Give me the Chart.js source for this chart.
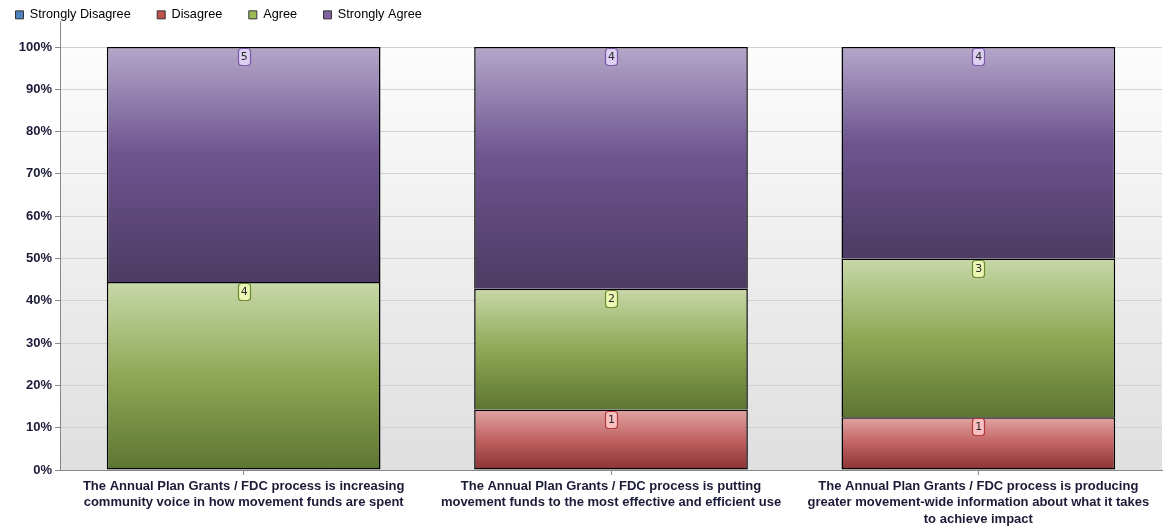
<!DOCTYPE html>
<html><head><meta charset="utf-8">
<script src="https://cdn.jsdelivr.net/npm/chart.js@4"></script>
<style>html,body{margin:0;padding:0;background:#fff}#wrap{width:1171px;height:530px;position:relative}</style>
</head><body><div id="wrap"><canvas id="c"></canvas></div>
<script>
const categories = [
  ["The Annual Plan Grants / FDC process is increasing", "community voice in how movement funds are spent"],
  ["The Annual Plan Grants / FDC process is putting", "movement funds to the most effective and efficient use"],
  ["The Annual Plan Grants / FDC process is producing", "greater movement-wide information about what it takes", "to achieve impact"]
];
const seriesNames = ["Strongly Disagree", "Disagree", "Agree", "Strongly Agree"];
const stronglyDisagree = [0, 0, 0];
const disagree = [0, 1, 1];
const agree = [4, 2, 3];
const stronglyAgree = [5, 4, 4];
const yTickValues = [0, 10, 20, 30, 40, 50, 60, 70, 80, 90, 100];

const counts = [stronglyDisagree, disagree, agree, stronglyAgree];
const totals = categories.map((_, i) => counts.reduce((s, arr) => s + arr[i], 0));
const pct = counts.map(arr => arr.map((v, i) => v > 0 ? v / totals[i] * 100 : null));

const legendColors = ['#4f81bd', '#c0504d', '#9bbb59', '#8064a2'];
const gradStops = [
  [[0, '#9fb8dc'], [0.5, '#4f81bd'], [1, '#2f5080']],
  [[0, '#e2a4a4'], [0.5, '#c06262'], [1, '#8a3232']],
  [[0, '#c8d8a8'], [0.5, '#8ea856'], [1, '#5d7532']],
  [[0, '#b4a7c9'], [0.45, '#6e5590'], [1, '#4c3b62']]
];
const labelStyle = [
  {fill: '#c8d8f0', stroke: '#3a5f95'},
  {fill: '#f8c0c0', stroke: '#b03a3a'},
  {fill: '#ecf7b6', stroke: '#6b8a2e'},
  {fill: '#ddd0f2', stroke: '#7a5aa8'}
];

function segGradient(di) {
  return function (ctx) {
    const chart = ctx.chart;
    if (!chart.chartArea || ctx.type !== 'data') return legendColors[di];
    const y = chart.scales.y;
    const i = ctx.dataIndex;
    let base = 0;
    for (let d = 0; d < di; d++) base += chart.data.datasets[d].data[i] || 0;
    const v = chart.data.datasets[di].data[i] || 0;
    const yTop = y.getPixelForValue(base + v), yBot = y.getPixelForValue(base);
    if (!(yBot > yTop)) return legendColors[di];
    const g = chart.ctx.createLinearGradient(0, yTop, 0, yBot);
    gradStops[di].forEach(([o, c]) => g.addColorStop(o, c));
    return g;
  };
}

function skipFor(di) {
  return function (ctx) {
    const i = ctx.dataIndex;
    for (let d = 0; d < di; d++) if (counts[d][i] > 0) return 'start';
    return false;
  };
}

const bgPlugin = {
  id: 'plotBg',
  beforeDraw(chart) {
    const {ctx, chartArea: a} = chart;
    const g = ctx.createLinearGradient(0, a.top, 0, a.bottom);
    g.addColorStop(0, '#fcfcfc');
    g.addColorStop(1, '#dfdfdf');
    ctx.save();
    ctx.fillStyle = g;
    ctx.fillRect(a.left, a.top, a.right - a.left, a.bottom - a.top);
    ctx.restore();
  },
  afterDraw(chart) {
    const {ctx, chartArea: a} = chart;
    ctx.save();
    ctx.strokeStyle = '#888';
    ctx.lineWidth = 1;
    ctx.beginPath();
    ctx.moveTo(Math.round(a.left) + 0.5, 21);
    ctx.lineTo(Math.round(a.left) + 0.5, a.top);
    ctx.stroke();
    ctx.restore();
  }
};

const legendPatch = {
  id: 'legendPatch',
  beforeLayout(chart) {
    const lg = chart.legend;
    if (lg && !lg._patched) {
      lg._patched = true;
      const fit = lg.fit.bind(lg);
      lg.fit = function () { fit(); this.height = 47; };
      const draw = lg.draw.bind(lg);
      lg.draw = function () {
        const c = this.ctx;
        c.save();
        c.translate(-11, -18);
        draw();
        c.restore();
      };
    }
  }
};

const countLabels = {
  id: 'countLabels',
  afterDatasetsDraw(chart) {
    const ctx = chart.ctx;
    ctx.save();
    ctx.font = '11px "DejaVu Sans"';
    ctx.textAlign = 'center';
    ctx.textBaseline = 'middle';
    chart.data.datasets.forEach((ds, di) => {
      const meta = chart.getDatasetMeta(di);
      meta.data.forEach((el, i) => {
        const n = counts[di][i];
        if (!n) return;
        const w = 12, h = 17;
        const x = Math.round(el.x - w / 2) + 0.5, y = Math.round(el.y + 1) + 0.5;
        ctx.beginPath();
        ctx.roundRect(x, y, w, h, 3);
        ctx.fillStyle = labelStyle[di].fill;
        ctx.fill();
        ctx.lineWidth = 1.2;
        ctx.strokeStyle = labelStyle[di].stroke;
        ctx.stroke();
        ctx.fillStyle = '#2a2a2a';
        ctx.fillText(String(n), el.x + 0.5, y + h / 2 + 0.5);
      });
    });
    ctx.restore();
  }
};

new Chart(document.getElementById('c'), {
  type: 'bar',
  data: {
    labels: categories,
    datasets: seriesNames.map((name, di) => ({
      label: name,
      data: pct[di],
      backgroundColor: segGradient(di),
      borderColor: '#000000',
      borderWidth: 1.5,
      borderSkipped: skipFor(di),
      categoryPercentage: 1,
      barPercentage: 0.745
    }))
  },
  options: {
    responsive: true,
    maintainAspectRatio: false,
    animation: false,
    events: [],
    layout: {padding: {left: 0, right: 9, top: 0, bottom: 0}},
    plugins: {
      tooltip: {enabled: false},
      legend: {
        position: 'top',
        align: 'start',
        labels: {
          boxWidth: 8,
          boxHeight: 8,
          padding: 26.5,
          color: '#222',
          font: {family: '"Liberation Sans", Arial', size: 12.7},
          generateLabels: () => seriesNames.map((n, i) => ({
            text: n, fillStyle: legendColors[i], strokeStyle: '#333', lineWidth: 1, hidden: false, datasetIndex: i
          }))
        }
      }
    },
    scales: {
      x: {
        stacked: true,
        afterFit(s) { s.height = 60; },
        grid: {display: true, drawOnChartArea: false, offset: false, drawTicks: true, tickLength: 5, tickColor: '#888'},
        border: {color: '#888', width: 1},
        ticks: {
          color: '#1b1b38', padding: 3, maxRotation: 0, autoSkip: false,
          font: {family: '"Liberation Sans", Arial', size: 13, weight: 'bold', lineHeight: 1.27}
        }
      },
      y: {
        stacked: true,
        min: 0, max: 100,
        afterFit(s) { s.width = 60; },
        afterBuildTicks(s) { s.ticks = yTickValues.map(v => ({value: v})); },
        grid: {color: '#d2d2d2', lineWidth: 1, tickLength: 5, tickColor: '#888'},
        border: {color: '#888', width: 1},
        ticks: {
          color: '#1b1b38', padding: 3,
          font: {family: '"Liberation Sans", Arial', size: 13, weight: 'bold'},
          callback: v => v + '%'
        }
      }
    }
  },
  plugins: [bgPlugin, legendPatch, countLabels]
});
</script>
</body></html>
